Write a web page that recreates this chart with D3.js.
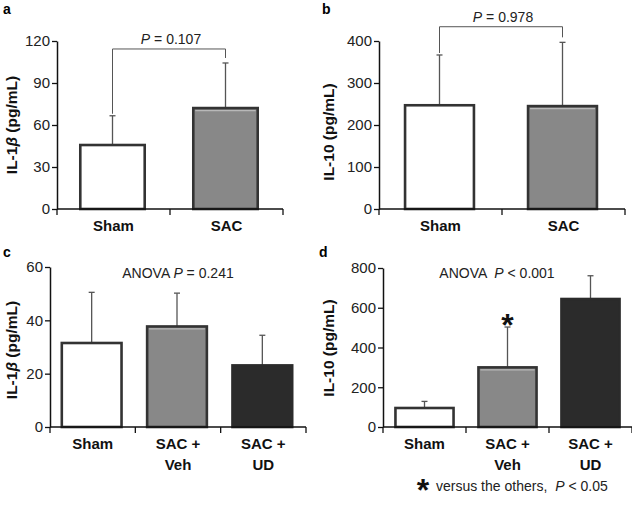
<!DOCTYPE html>
<html><head><meta charset="utf-8">
<script src="https://cdn.jsdelivr.net/npm/d3@7"></script>
<style>body{margin:0;background:#fff}svg{display:block}text{font-family:"Liberation Sans",Arial,sans-serif}</style>
</head><body><svg id="c" width="632" height="518"></svg>
<script>
// ---- data ----
const catsAB = ["Sham", "SAC"];
const catsCD = [["Sham"], ["SAC +", "Veh"], ["SAC +", "UD"]];
const aMean = [45.7, 72.1], aErr = [66.6, 104.3];
const bMean = [247, 245], bErr = [366.7, 396.8];
const cMean = [31.5, 37.7, 23.1], cErr = [50.5, 50.2, 34.4];
const dMean = [95.6, 300, 644], dErr = [128.8, 503, 761];
const aTicks = [0, 30, 60, 90, 120];
const bTicks = [0, 100, 200, 300, 400];
const cTicks = [0, 20, 40, 60];
const dTicks = [0, 200, 400, 600, 800];

const fills = ["#ffffff", "#888888", "#2b2b2b"];
const svg = d3.select("#c");

function panel(o) {
  const g = svg.append("g");
  const y = d3.scaleLinear().domain([0, o.ticks[o.ticks.length - 1]]).range([o.y0, o.y1]);
  const x = d3.scaleBand().domain(d3.range(o.cats.length)).range([o.x0, o.x1]).padding(0);
  const bw = x.bandwidth() * o.frac;
  const cx = i => x(i) + x.bandwidth() / 2 + (o.shift || 0);

  // error bars
  o.mean.forEach((m, i) => {
    g.append("line").attr("x1", cx(i)).attr("x2", cx(i)).attr("y1", y(m)).attr("y2", y(o.err[i]))
      .attr("stroke", "#555").attr("stroke-width", 1.3);
    g.append("line").attr("x1", cx(i) - 3).attr("x2", cx(i) + 3).attr("y1", y(o.err[i])).attr("y2", y(o.err[i]))
      .attr("stroke", "#555").attr("stroke-width", 1.3);
  });
  // bars
  o.mean.forEach((m, i) => {
    g.append("rect").attr("x", cx(i) - bw / 2).attr("y", y(m)).attr("width", bw).attr("height", y(0) - y(m))
      .attr("fill", fills[i]).attr("stroke", i === 2 ? "#2b2b2b" : "#333").attr("stroke-width", 2.6);
    if (i === 1) {
      g.append("line").attr("x1", cx(i) - bw / 2 + 2).attr("x2", cx(i) + bw / 2 - 2)
        .attr("y1", y(m) + 2.5).attr("y2", y(m) + 2.5).attr("stroke", "#b8b8b8").attr("stroke-width", 1.2);
    }
  });
  // y axis
  const ya = g.append("g").attr("transform", `translate(${o.x0},0)`)
    .call(d3.axisLeft(y).tickValues(o.ticks).tickSize(5).tickSizeOuter(0));
  ya.select(".domain").attr("stroke", "#111").attr("stroke-width", 1.5);
  ya.selectAll(".tick line").attr("stroke", "#111").attr("stroke-width", 1.3);
  ya.selectAll(".tick text").attr("font-size", 15).attr("fill", "#222").attr("x", -7)
    .attr("font-family", "Liberation Sans, Arial, sans-serif");
  // x axis
  g.append("line").attr("x1", o.x0).attr("x2", o.x1).attr("y1", o.y0).attr("y2", o.y0)
    .attr("stroke", "#111").attr("stroke-width", 1.5);
  d3.range(o.cats.length + 1).forEach(k => {
    const xx = k < o.cats.length ? x(k) : o.x1;
    g.append("line").attr("x1", xx).attr("x2", xx).attr("y1", o.y0).attr("y2", o.y0 + 6)
      .attr("stroke", "#111").attr("stroke-width", 1.3);
  });
  o.cats.forEach((c, i) => {
    const lines = Array.isArray(c) ? c : [c];
    lines.forEach((l, j) => {
      g.append("text").attr("x", x(i) + x.bandwidth() / 2).attr("y", o.y0 + 22 + j * 21)
        .attr("text-anchor", "middle").attr("font-size", 15).attr("font-weight", "bold").attr("fill", "#111").text(l);
    });
  });
  // y title
  const yt = g.append("text").attr("transform", `translate(${o.titleX},${o.titleY}) rotate(-90)`)
    .attr("text-anchor", "middle").attr("font-size", 15.5).attr("font-weight", "bold").attr("fill", "#111");
  o.title.forEach(t => yt.append("tspan").attr("font-style", t[1] ? "italic" : null).text(t[0]));
  // panel letter
  g.append("text").attr("x", o.lx).attr("y", o.ly).attr("font-size", 14).attr("font-weight", "bold").text(o.letter);
  // p text
  const pt = g.append("text").attr("x", o.px).attr("y", o.py).attr("text-anchor", "middle")
    .attr("font-size", 14).attr("fill", "#222");
  o.ptext.forEach(t => pt.append("tspan").attr("font-style", t[1] ? "italic" : null).attr("dx", t[2] || null).text(t[0]));
  // bracket
  if (o.bracket !== undefined) {
    const by = y(o.bracket);
    g.append("path").attr("fill", "none").attr("stroke", "#555").attr("stroke-width", 1)
      .attr("d", `M${cx(0)},${y(o.err[0]) - 2}V${by}H${cx(1)}V${y(o.err[1]) - 5}`);
  }
  return { g, y, x, cx };
}

const ylab1 = [["IL-1"], ["β", true], [" (pg/mL)"]];
const ylab10 = [["IL-10 (pg/mL)"]];

panel({ cats: catsAB, mean: aMean, err: aErr, ticks: aTicks, x0: 57, x1: 283, y0: 209, y1: 41, frac: 0.57, shift: -1,
  title: ylab1, titleX: 17, titleY: 125, letter: "a", lx: 3, ly: 14,
  ptext: [["P", true], [" = 0.107"]], px: 171, py: 44, bracket: 114.3 });
panel({ cats: catsAB, mean: bMean, err: bErr, ticks: bTicks, x0: 379, x1: 625, y0: 209, y1: 41, frac: 0.56, shift: -1,
  title: ylab10, titleX: 334, titleY: 132, letter: "b", lx: 322, ly: 14,
  ptext: [["P", true], [" = 0.978"]], px: 503, py: 22, bracket: 434 });
panel({ cats: catsCD, mean: cMean, err: cErr, ticks: cTicks, x0: 50, x1: 306, y0: 427, y1: 267, frac: 0.7, shift: -1,
  title: ylab1, titleX: 17, titleY: 350, letter: "c", lx: 3, ly: 257,
  ptext: [["ANOVA "], ["P", true], [" = 0.241"]], px: 178, py: 278 });
const pd = panel({ cats: catsCD, mean: dMean, err: dErr, ticks: dTicks, x0: 383, x1: 632, y0: 427, y1: 268, frac: 0.7, shift: 0,
  title: ylab10, titleX: 334, titleY: 348, letter: "d", lx: 319, ly: 257,
  ptext: [["ANOVA"], ["P", true, 7], [" < 0.001"]], px: 497, py: 278 });

// significance star
pd.g.append("text").attr("x", pd.cx(1)).attr("y", pd.y(dErr[1]) + 9).attr("text-anchor", "middle")
  .attr("font-size", 32).attr("font-weight", "bold").attr("fill", "#111").text("*");
// footnote
const fn = svg.append("g");
fn.append("text").attr("x", 423).attr("y", 501).attr("text-anchor", "middle").attr("font-size", 32)
  .attr("font-weight", "bold").attr("fill", "#111").text("*");
const ft = fn.append("text").attr("x", 436).attr("y", 491).attr("font-size", 14).attr("fill", "#222");
ft.append("tspan").text("versus the others,");
ft.append("tspan").attr("dx", 8).attr("font-style", "italic").text("P");
ft.append("tspan").text(" < 0.05");
</script></body></html>
